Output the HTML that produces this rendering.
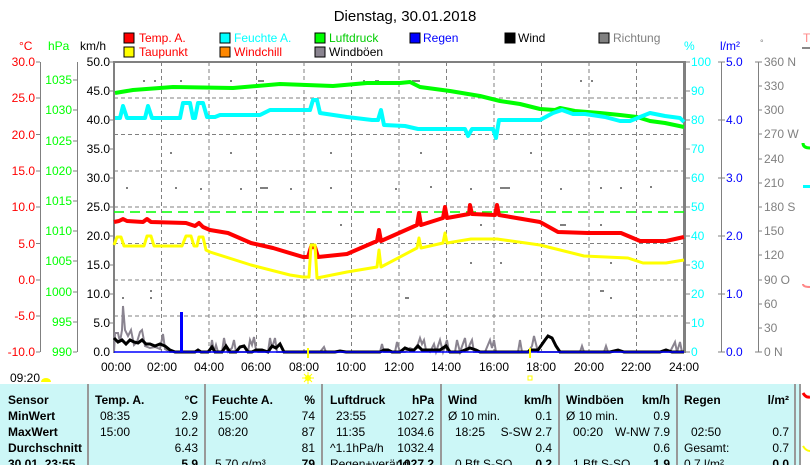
<!DOCTYPE html>
<html><head><meta charset="utf-8"><style>
body{margin:0;background:#fff;width:810px;height:465px;overflow:hidden;font-family:"Liberation Sans",sans-serif}
svg{position:absolute;left:0;top:0}
</style></head><body>
<svg width="810" height="465" viewBox="0 0 810 465" font-family="Liberation Sans, sans-serif" font-size="12">
<text x="405" y="21" font-size="15" text-anchor="middle">Dienstag, 30.01.2018</text>
<g font-size="12">
<rect x="124" y="33" width="10" height="10" fill="#f00" stroke="#000"/><text x="139" y="42" fill="#f00">Temp. A.</text>
<rect x="124" y="47" width="10" height="10" fill="#ff0" stroke="#000"/><text x="139" y="56" fill="#f00">Taupunkt</text>
<rect x="220" y="33" width="10" height="10" fill="#0ff" stroke="#000"/><text x="234" y="42" fill="#0ff">Feuchte A.</text>
<rect x="220" y="47" width="10" height="10" fill="#f80" stroke="#000"/><text x="234" y="56" fill="#f00">Windchill</text>
<rect x="315" y="33" width="10" height="10" fill="#0f0" stroke="#000"/><text x="329" y="42" fill="#0c0">Luftdruck</text>
<rect x="315" y="47" width="10" height="10" fill="#8a8490" stroke="#000"/><text x="329" y="56">Windböen</text>
<rect x="410" y="33" width="10" height="10" fill="#00f" stroke="#000"/><text x="423" y="42" fill="#00f">Regen</text>
<rect x="505" y="33" width="10" height="10" fill="#000" stroke="#000"/><text x="518" y="42">Wind</text>
<rect x="599" y="33" width="10" height="10" fill="#808080" stroke="#000"/><text x="613" y="42" fill="#808080">Richtung</text>
</g>
<text x="19" y="50" fill="#f00">°C</text><text x="48" y="50" fill="#0f0">hPa</text><text x="80" y="50">km/h</text>
<text x="684" y="50" fill="#0ff">%</text><text x="720" y="50" fill="#00f">l/m²</text><text x="760" y="46" fill="#808080" font-size="9">°</text>
<text x="803" y="42" fill="#f88">T</text><rect x="802" y="47" width="8" height="2" fill="#888"/>
<g stroke="#808080"><line x1="40.5" y1="62" x2="40.5" y2="352"/><line x1="77.5" y1="62" x2="77.5" y2="352"/></g>
<g fill="#f00" text-anchor="end" font-size="12">
<text x="35" y="66">30.0</text><text x="35" y="102">25.0</text><text x="35" y="139">20.0</text><text x="35" y="175">15.0</text><text x="35" y="211">10.0</text><text x="35" y="248">5.0</text><text x="35" y="284">0.0</text><text x="35" y="320">-5.0</text><text x="35" y="356">-10.0</text>
</g>
<g stroke="#808080"><line x1="36" y1="62" x2="40" y2="62"/><line x1="36" y1="98" x2="40" y2="98"/><line x1="36" y1="134.5" x2="40" y2="134.5"/><line x1="36" y1="171" x2="40" y2="171"/><line x1="36" y1="207" x2="40" y2="207"/><line x1="36" y1="243.5" x2="40" y2="243.5"/><line x1="36" y1="280" x2="40" y2="280"/><line x1="36" y1="316" x2="40" y2="316"/><line x1="36" y1="352" x2="40" y2="352"/></g>
<g fill="#0f0" text-anchor="end">
<text x="72" y="84">1035</text><text x="72" y="114">1030</text><text x="72" y="145">1025</text><text x="72" y="175">1020</text><text x="72" y="205">1015</text><text x="72" y="235">1010</text><text x="72" y="265">1005</text><text x="72" y="296">1000</text><text x="72" y="326">995</text><text x="72" y="356">990</text>
</g>
<g stroke="#808080"><line x1="73" y1="80" x2="77" y2="80"/><line x1="73" y1="110" x2="77" y2="110"/><line x1="73" y1="141" x2="77" y2="141"/><line x1="73" y1="171" x2="77" y2="171"/><line x1="73" y1="201" x2="77" y2="201"/><line x1="73" y1="231" x2="77" y2="231"/><line x1="73" y1="261" x2="77" y2="261"/><line x1="73" y1="292" x2="77" y2="292"/><line x1="73" y1="322" x2="77" y2="322"/><line x1="73" y1="352" x2="77" y2="352"/></g>
<g text-anchor="end">
<text x="110" y="66">50.0</text><text x="110" y="95">45.0</text><text x="110" y="124">40.0</text><text x="110" y="153">35.0</text><text x="110" y="182">30.0</text><text x="110" y="211">25.0</text><text x="110" y="240">20.0</text><text x="110" y="269">15.0</text><text x="110" y="298">10.0</text><text x="110" y="327">5.0</text><text x="110" y="356">0.0</text>
</g>
<g stroke="#808080" stroke-dasharray="4,3">
<line x1="114" y1="98" x2="684" y2="98"/><line x1="114" y1="134.5" x2="684" y2="134.5"/><line x1="114" y1="171" x2="684" y2="171"/><line x1="114" y1="207" x2="684" y2="207"/><line x1="114" y1="243.5" x2="684" y2="243.5"/><line x1="114" y1="280" x2="684" y2="280"/><line x1="114" y1="316" x2="684" y2="316"/>
<line x1="161.5" y1="62" x2="161.5" y2="352"/><line x1="209" y1="62" x2="209" y2="352"/><line x1="256.5" y1="62" x2="256.5" y2="352"/><line x1="304" y1="62" x2="304" y2="352"/><line x1="351.5" y1="62" x2="351.5" y2="352"/><line x1="399" y1="62" x2="399" y2="352"/><line x1="446.5" y1="62" x2="446.5" y2="352"/><line x1="494" y1="62" x2="494" y2="352"/><line x1="541.5" y1="62" x2="541.5" y2="352"/><line x1="589" y1="62" x2="589" y2="352"/><line x1="636.5" y1="62" x2="636.5" y2="352"/>
</g>
<rect x="113" y="61" width="572" height="2" fill="#808080"/>
<rect x="113" y="61" width="2" height="292" fill="#808080"/>
<rect x="683" y="61" width="3" height="292" fill="#808080"/>
<g stroke="#808080"><line x1="110" y1="62" x2="114" y2="62"/><line x1="110" y1="91" x2="114" y2="91"/><line x1="110" y1="120" x2="114" y2="120"/><line x1="110" y1="149" x2="114" y2="149"/><line x1="110" y1="178" x2="114" y2="178"/><line x1="110" y1="207" x2="114" y2="207"/><line x1="110" y1="236" x2="114" y2="236"/><line x1="110" y1="265" x2="114" y2="265"/><line x1="110" y1="294" x2="114" y2="294"/><line x1="110" y1="323" x2="114" y2="323"/></g>
<g fill="#808080">
<rect x="143" y="80" width="2" height="2"/><rect x="154" y="80" width="2" height="2"/><rect x="180" y="80" width="2" height="2"/><rect x="230" y="80" width="2" height="2"/><rect x="258" y="80" width="6" height="2"/><rect x="363" y="80" width="2" height="2"/><rect x="375" y="80" width="4" height="2"/><rect x="412" y="80" width="8" height="2"/><rect x="580" y="80" width="2" height="2"/><rect x="591" y="80" width="2" height="2"/>
<rect x="130" y="118" width="2" height="2"/><rect x="170" y="152" width="2" height="2"/><rect x="230" y="152" width="2" height="2"/><rect x="330" y="152" width="2" height="2"/><rect x="420" y="152" width="2" height="2"/><rect x="530" y="152" width="2" height="2"/>
<rect x="200" y="188" width="2" height="2"/><rect x="240" y="188" width="2" height="2"/><rect x="290" y="188" width="2" height="2"/><rect x="395" y="188" width="2" height="2"/><rect x="430" y="186" width="2" height="2"/><rect x="470" y="188" width="2" height="2"/><rect x="560" y="188" width="2" height="2"/><rect x="650" y="186" width="2" height="2"/>
<rect x="126" y="187" width="2" height="2"/><rect x="175" y="187" width="2" height="2"/><rect x="260" y="187" width="8" height="2"/><rect x="330" y="187" width="2" height="2"/><rect x="500" y="187" width="10" height="2"/><rect x="600" y="187" width="2" height="2"/><rect x="620" y="187" width="2" height="2"/>
<rect x="340" y="224" width="2" height="2"/><rect x="480" y="224" width="2" height="2"/><rect x="560" y="224" width="6" height="2"/><rect x="600" y="224" width="2" height="2"/>
<rect x="470" y="262" width="2" height="2"/><rect x="500" y="262" width="2" height="2"/><rect x="610" y="262" width="2" height="2"/>
<rect x="150" y="290" width="2" height="2"/><rect x="600" y="290" width="4" height="2"/>
<rect x="122" y="297" width="2" height="2"/><rect x="150" y="297" width="2" height="2"/><rect x="405" y="297" width="4" height="2"/><rect x="610" y="297" width="2" height="2"/>
</g>
<line x1="114" y1="212" x2="684" y2="212" stroke="#0f0" stroke-dasharray="10,6" stroke-width="1.5"/>
<g fill="none" stroke-width="4" stroke-linejoin="round">
<polyline stroke="#0f0" points="115,93 133,90 173,87 233,88 280,84 333,86 367,83 400,83 410,82 420,87 450,91 480,96 500,101 520,104 540,109 555,110 560,108 575,111 600,113 620,115 637,117 650,121 665,123 684,127"/>
<polyline stroke="#0ff" points="115,118 120,118 123,106 127,118 145,118 148,106 152,118 180,118 183,103 190,103 193,118 195,118 198,103 203,103 207,117 215,117 220,115 260,115 270,110 310,110 313,100 317,100 320,113 347,117 372,120 378,120 381,110 384,125 405,126 418,129 465,129 468,136 472,129 493,129 496,138 499,120 540,120 553,113 562,110 573,114 585,114 605,117 620,121 630,121 640,117 650,113 665,116 680,118 684,122"/>
<polyline stroke="#f00" points="114,222 119,221 123,219 127,221 143,222 147,219 151,222 186,223 195,226 199,223 203,227 210,230 228,233 251,243 273,248 303,257 308,257 311,247 315,247 318,257 347,254 377,241 379,230 381,241 417,225 419,213 421,225 443,218 445,207 447,218 469,214 470,205 472,214 495,215 497,205 499,215 540,222 558,232 588,233 621,233 640,241 666,241 684,237"/>
<polyline stroke="#ff0" stroke-width="3" points="114,245 117,237 121,237 124,246 144,246 147,236 151,236 154,246 182,246 186,236 191,236 194,246 197,246 199,237 203,237 206,250 210,252 251,265 290,275 303,277 309,277 311,245 315,245 317,278 347,272 377,267 379,250 381,267 417,248 419,238 421,248 443,243 445,233 447,243 471,239 497,239 540,245 584,256 628,258 643,263 666,263 684,260"/>
</g>
<polyline fill="none" stroke="#8a8490" stroke-width="2" points="114,352 115,333 118,333 120,342 122,330 123,306 125,330 128,336 131,330 134,345 137,342 140,332 142,330 145,346 150,348 155,347 160,349 163,334 165,349 170,352 210,352 212,340 214,352 216,345 218,352 222,352 224,338 226,348 228,352 232,348 234,340 236,352 248,352 250,340 252,345 254,337 256,350 258,352 268,352 270,338 272,348 275,338 277,352 292,352 312,352 320,352 324,347 326,352 345,352 350,352 360,352 380,352 382,344 384,352 395,352 397,342 400,352 405,352 410,348 414,350 418,344 420,338 422,344 424,340 426,350 430,352 434,344 436,352 440,340 443,352 447,340 449,352 455,352 457,340 460,352 465,338 467,352 470,344 472,340 474,352 480,352 485,352 490,340 492,348 494,340 496,352 518,352 520,340 522,352 528,352 532,346 534,336 536,344 538,352 556,352 560,352 570,352 580,352 582,346 584,352 604,352 606,346 608,352 620,352 660,352 670,352 675,342 677,352 680,342 682,352"/>
<polyline fill="none" stroke="#000" stroke-width="3" points="114,338 118,342 122,340 126,344 130,340 134,342 138,343 142,340 146,344 150,344 155,346 160,344 165,346 170,350 175,352 195,352 198,350 201,352 208,352 212,347 215,352 222,352 226,346 230,352 236,352 240,347 244,346 248,352 252,352 256,350 262,350 268,352 272,346 276,348 280,344 284,352 292,352 300,352 335,352 340,351 346,352 380,352 384,350 388,350 392,352 400,352 405,348 410,350 414,350 418,346 422,350 428,350 434,350 440,350 446,346 450,352 460,352 470,348 476,350 480,352 510,352 520,352 528,352 530,350 538,350 545,340 548,336 552,338 556,346 560,352 590,352 610,352 618,350 624,352 660,352 666,350 672,352 684,352"/>
<rect x="180" y="312" width="3" height="40" fill="#00f"/>
<line x1="114" y1="352" x2="684" y2="352" stroke="#00f" stroke-width="1.5"/>
<g stroke="#808080"><line x1="721.5" y1="62" x2="721.5" y2="352"/><line x1="758.5" y1="62" x2="758.5" y2="352"/></g>
<g stroke="#808080">
<line x1="686" y1="62" x2="690" y2="62"/><line x1="686" y1="91" x2="690" y2="91"/><line x1="686" y1="120" x2="690" y2="120"/><line x1="686" y1="149" x2="690" y2="149"/><line x1="686" y1="178" x2="690" y2="178"/><line x1="686" y1="207" x2="690" y2="207"/><line x1="686" y1="236" x2="690" y2="236"/><line x1="686" y1="265" x2="690" y2="265"/><line x1="686" y1="294" x2="690" y2="294"/><line x1="686" y1="323" x2="690" y2="323"/><line x1="686" y1="352" x2="690" y2="352"/>
<line x1="718" y1="62" x2="725" y2="62"/><line x1="718" y1="120" x2="725" y2="120"/><line x1="718" y1="178" x2="725" y2="178"/><line x1="718" y1="236" x2="725" y2="236"/><line x1="718" y1="294" x2="725" y2="294"/><line x1="718" y1="352" x2="725" y2="352"/>
<line x1="755" y1="62" x2="762" y2="62"/><line x1="758" y1="86" x2="762" y2="86"/><line x1="758" y1="110" x2="762" y2="110"/><line x1="758" y1="134" x2="762" y2="134"/><line x1="758" y1="159" x2="762" y2="159"/><line x1="758" y1="183" x2="762" y2="183"/><line x1="758" y1="207" x2="762" y2="207"/><line x1="758" y1="231" x2="762" y2="231"/><line x1="758" y1="255" x2="762" y2="255"/><line x1="758" y1="280" x2="762" y2="280"/><line x1="758" y1="304" x2="762" y2="304"/><line x1="758" y1="328" x2="762" y2="328"/><line x1="755" y1="352" x2="762" y2="352"/>
</g>
<g fill="#0ff"><text x="691" y="66">100</text><text x="691" y="95">90</text><text x="691" y="124">80</text><text x="691" y="153">70</text><text x="691" y="182">60</text><text x="691" y="211">50</text><text x="691" y="240">40</text><text x="691" y="269">30</text><text x="691" y="298">20</text><text x="691" y="327">10</text><text x="691" y="356">0</text></g>
<g fill="#00f"><text x="726" y="66">5.0</text><text x="726" y="124">4.0</text><text x="726" y="182">3.0</text><text x="726" y="240">2.0</text><text x="726" y="298">1.0</text><text x="726" y="356">0.0</text></g>
<g fill="#808080"><text x="764" y="66">360 N</text><text x="764" y="90">330</text><text x="764" y="114">300</text><text x="764" y="138">270 W</text><text x="764" y="163">240</text><text x="764" y="187">210</text><text x="764" y="211">180 S</text><text x="764" y="235">150</text><text x="764" y="259">120</text><text x="764" y="284">90  O</text><text x="764" y="308">60</text><text x="764" y="332">30</text><text x="764" y="356">0   N</text></g>
<path d="M803,143 q0,5 7,5" stroke="#0f0" stroke-width="3" fill="none"/>
<rect x="803" y="185" width="7" height="3" fill="#0ff"/>
<path d="M803,284 q0,3 7,3" stroke="#f88" stroke-width="2" fill="none"/>
<g text-anchor="middle"><text x="116" y="371">00:00</text><text x="162" y="371">02:00</text><text x="209" y="371">04:00</text><text x="256" y="371">06:00</text><text x="304" y="371">08:00</text><text x="351" y="371">10:00</text><text x="399" y="371">12:00</text><text x="446" y="371">14:00</text><text x="494" y="371">16:00</text><text x="541" y="371">18:00</text><text x="589" y="371">20:00</text><text x="636" y="371">22:00</text><text x="684" y="371">24:00</text></g>
<rect x="307" y="348" width="2" height="10" fill="#ff0"/><rect x="529" y="348" width="2" height="10" fill="#ff0"/>
<circle cx="308" cy="378" r="3" fill="#ff0"/><g stroke="#ff0" stroke-width="1"><line x1="302" y1="378" x2="314" y2="378"/><line x1="308" y1="372" x2="308" y2="384"/><line x1="304" y1="374" x2="312" y2="382"/><line x1="312" y1="374" x2="304" y2="382"/></g>
<rect x="528" y="376" width="4" height="4" fill="none" stroke="#ff0"/>
<text x="10" y="382">09:20</text><path d="M41,382 a5,4 0 0 1 10,0 z" fill="#ff0"/>
<rect x="0" y="384" width="800" height="81" fill="#ccf7f7"/>
<rect x="800" y="384" width="10" height="81" fill="#fff"/>
<g stroke="#999" stroke-width="2"><line x1="88" y1="384" x2="88" y2="465"/><line x1="205" y1="384" x2="205" y2="465"/><line x1="322" y1="384" x2="322" y2="465"/><line x1="441" y1="384" x2="441" y2="465"/><line x1="559" y1="384" x2="559" y2="465"/><line x1="677" y1="384" x2="677" y2="465"/><line x1="795" y1="384" x2="795" y2="465"/><line x1="800" y1="384" x2="800" y2="465"/></g>
<path d="M803,393 q3,5 7,4" stroke="#f00" stroke-width="3" fill="none"/>
<path d="M803,446 q3,5 7,5" stroke="#ff0" stroke-width="2" fill="none"/>
<g font-weight="bold"><text x="8" y="404">Sensor</text><text x="8" y="420">MinWert</text><text x="8" y="436">MaxWert</text><text x="8" y="452">Durchschnitt</text><text x="8" y="468">30.01. 23:55</text>
<text x="95" y="404">Temp. A.</text><text x="198" y="404" text-anchor="end">°C</text>
<text x="212" y="404">Feuchte A.</text><text x="315" y="404" text-anchor="end">%</text>
<text x="330" y="404">Luftdruck</text><text x="434" y="404" text-anchor="end">hPa</text>
<text x="448" y="404">Wind</text><text x="552" y="404" text-anchor="end">km/h</text>
<text x="566" y="404">Windböen</text><text x="670" y="404" text-anchor="end">km/h</text>
<text x="684" y="404">Regen</text><text x="789" y="404" text-anchor="end">l/m²</text>
<text x="198" y="468" text-anchor="end">5.9</text><text x="315" y="468" text-anchor="end">79</text><text x="434" y="468" text-anchor="end">1027.2</text><text x="552" y="468" text-anchor="end">0.2</text><text x="670" y="468" text-anchor="end">1.9</text><text x="789" y="468" text-anchor="end">0.0</text></g>
<g text-anchor="start"><text x="100" y="420">08:35</text><text x="100" y="436">15:00</text>
<text x="218" y="420">15:00</text><text x="218" y="436">08:20</text><text x="215" y="468">5.70 g/m³</text>
<text x="336" y="420">23:55</text><text x="336" y="436">11:35</text><text x="330" y="452">^1.1hPa/h</text><text x="330" y="468">Regen+veränd.</text>
<text x="448" y="420">Ø 10 min.</text><text x="455" y="436">18:25</text><text x="455" y="468">0 Bft S-SO</text>
<text x="566" y="420">Ø 10 min.</text><text x="573" y="436">00:20</text><text x="573" y="468">1 Bft S-SO</text>
<text x="691" y="436">02:50</text><text x="684" y="452">Gesamt:</text><text x="684" y="468">0.7 l/m²</text></g>
<g text-anchor="end"><text x="198" y="420">2.9</text><text x="198" y="436">10.2</text><text x="198" y="452">6.43</text>
<text x="315" y="420">74</text><text x="315" y="436">87</text><text x="315" y="452">81</text>
<text x="434" y="420">1027.2</text><text x="434" y="436">1034.6</text><text x="434" y="452">1032.4</text>
<text x="552" y="420">0.1</text><text x="552" y="436">S-SW 2.7</text><text x="552" y="452">0.4</text>
<text x="670" y="420">0.9</text><text x="670" y="436">W-NW 7.9</text><text x="670" y="452">0.6</text>
<text x="789" y="436">0.7</text><text x="789" y="452">0.7</text></g>
</svg>
</body></html>
